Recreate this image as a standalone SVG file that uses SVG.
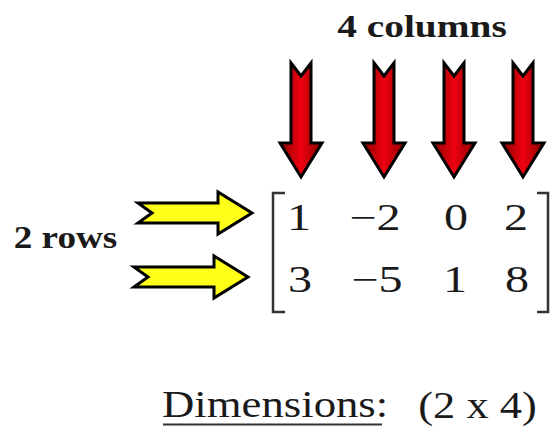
<svg xmlns="http://www.w3.org/2000/svg" width="553" height="428" viewBox="0 0 553 428">
<style>
.t{font-family:"Liberation Serif","Times New Roman",serif;fill:#1a1a1a}
.b{font-weight:bold}
.red{fill:url(#rg);stroke:#000;stroke-width:3;stroke-linejoin:miter}
.yel{fill:#ffff1a;stroke:#000;stroke-width:3;stroke-linejoin:miter}
.br{fill:none;stroke:#333;stroke-width:2.5}
</style>
<defs>
<linearGradient id="rg" x1="0" y1="0" x2="1" y2="0">
<stop offset="0" stop-color="#8a0000"/>
<stop offset="0.5" stop-color="#ee0010"/>
<stop offset="1" stop-color="#8a0000"/>
</linearGradient>
<path id="down" d="M-10,0 L0,13 L10,0 L10,80 L21,80 L0,114 L-21,80 L-10,80 Z"/>
<path id="right" d="M0,-10 L80,-10 L80,-21 L114,0 L80,21 L80,10 L0,10 L14,0 Z"/>
</defs>
<rect width="553" height="428" fill="#fff"/>
<g id="columns-label"><text class="t b" font-size="32" text-anchor="middle" transform="translate(422 37) scale(1.23 1)">4 columns</text></g>
<g id="rows-label"><text class="t b" font-size="31" text-anchor="middle" transform="translate(65.5 248) scale(1.2 1)">2 rows</text></g>
<g id="column-arrows">
<use href="#down" class="red" x="301" y="63"/>
<use href="#down" class="red" x="384" y="63"/>
<use href="#down" class="red" x="454" y="63"/>
<use href="#down" class="red" x="523" y="63"/>
</g>
<g id="row-arrows">
<use href="#right" class="yel" x="138" y="213"/>
<use href="#right" class="yel" x="134" y="277"/>
</g>
<g id="matrix">
<path class="br" d="M285,193 L273,193 L273,312 L285,312"/>
<path class="br" d="M537,193 L548,193 L548,312 L537,312"/>
<g class="t" font-size="37" text-anchor="middle">
<text transform="translate(299 230) scale(1.3 1)">1</text>
<text transform="translate(375 230) scale(1.3 1)">−2</text>
<text transform="translate(456 230) scale(1.3 1)">0</text>
<text transform="translate(516 230) scale(1.3 1)">2</text>
<text transform="translate(300 292) scale(1.3 1)">3</text>
<text transform="translate(377 292) scale(1.3 1)">−5</text>
<text transform="translate(455 292) scale(1.3 1)">1</text>
<text transform="translate(517 292) scale(1.3 1)">8</text>
</g>
</g>
<g id="dimensions">
<text class="t" font-size="37" transform="translate(162 417) scale(1.21 1)">Dimensions:</text>
<line x1="163" y1="424.5" x2="382" y2="424.5" stroke="#333" stroke-width="2"/>
<text class="t" font-size="37" text-anchor="middle" transform="translate(477.5 418) scale(1.2 1)">(2 x 4)</text>
</g>
</svg>
